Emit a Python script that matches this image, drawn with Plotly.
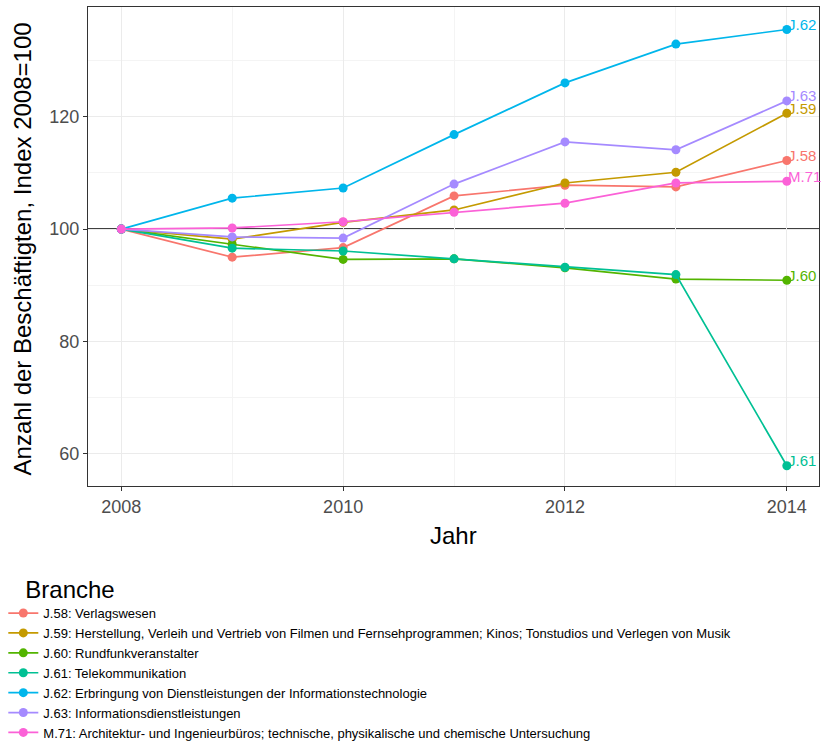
import plotly.graph_objects as go

# Beschäftigte je Branche, Index 2008 = 100
jahre = [2008, 2009, 2010, 2011, 2012, 2013, 2014]

codes = ["J.58", "J.59", "J.60", "J.61", "J.62", "J.63", "M.71"]
namen = [
    "Verlagswesen",
    "Herstellung, Verleih und Vertrieb von Filmen und Fernsehprogrammen; Kinos; Tonstudios und Verlegen von Musik",
    "Rundfunkveranstalter",
    "Telekommunikation",
    "Erbringung von Dienstleistungen der Informationstechnologie",
    "Informationsdienstleistungen",
    "Architektur- und Ingenieurbüros; technische, physikalische und chemische Untersuchung",
]

j58 = [100, 95.0, 96.7, 105.9, 107.8, 107.5, 112.2]
j59 = [100, 98.2, 101.2, 103.4, 108.2, 110.1, 120.6]
j60 = [100, 97.3, 94.6, 94.7, 93.1, 91.1, 90.9]
j61 = [100, 96.6, 96.1, 94.7, 93.2, 91.9, 57.9]
j62 = [100, 105.5, 107.3, 116.8, 126.0, 132.9, 135.5]
j63 = [100, 98.6, 98.4, 108.0, 115.5, 114.1, 122.8]
m71 = [100, 100.2, 101.3, 103.0, 104.6, 108.2, 108.5]

werte = [j58, j59, j60, j61, j62, j63, m71]

farben = ["#F8766D", "#C49A00", "#53B400", "#00C094", "#00B6EB", "#A58AFF", "#FB61D7"]

BASIS = 100
y_ticks = [60, 80, 100, 120]
x_ticks = [2008, 2010, 2012, 2014]

FONT = "Liberation Sans, Arial, sans-serif"

fig = go.Figure()

for code, name, ys, col in zip(codes, namen, werte, farben):
    fig.add_trace(go.Scatter(
        x=jahre, y=ys, mode="lines+markers",
        name=f"{code}: {name}",
        line=dict(color=col, width=1.7),
        marker=dict(color=col, size=9),
        hoverinfo="x+y+name",
    ))

# Kürzel am Ende jeder Linie
for code, ys, col in zip(codes, werte, farben):
    fig.add_annotation(
        x=jahre[-1], y=ys[-1], xref="x", yref="y",
        text=code, showarrow=False,
        xanchor="left", yanchor="middle", xshift=-1, yshift=5,
        font=dict(family=FONT, size=15, color=col),
    )

fig.add_hline(y=BASIS, line=dict(color="black", width=1.5), layer="below")

axis_common = dict(
    showgrid=True, gridcolor="#EBEBEB", gridwidth=1.1,
    showline=True, linecolor="#333333", linewidth=1.1, mirror=True,
    ticks="outside", ticklen=4, tickwidth=1.1, tickcolor="#333333",
    tickfont=dict(family=FONT, size=18, color="#4D4D4D"),
    zeroline=False,
)

fig.update_xaxes(
    range=[2007.7, 2014.29], tickvals=x_ticks,
    minor=dict(showgrid=True, gridcolor="#F4F4F4", gridwidth=0.6, dtick=1, tick0=2008, ticks=""),
    **axis_common,
)
fig.update_yaxes(
    range=[54.3, 139.5], tickvals=y_ticks,
    minor=dict(showgrid=True, gridcolor="#F4F4F4", gridwidth=0.6, dtick=10, tick0=50, ticks=""),
    **axis_common,
)

# Achsentitel
title_font = dict(family=FONT, size=24, color="black")
fig.add_annotation(text="Jahr", xref="paper", yref="paper", x=0.5, y=-0.1023,
                   xanchor="center", yanchor="middle", showarrow=False, font=title_font)
fig.add_annotation(text="Anzahl der Beschäftigten, Index 2008=100", xref="paper", yref="paper",
                   x=-0.0903, y=0.496, xanchor="center", yanchor="middle", textangle=-90,
                   showarrow=False, font=title_font)

fig.update_layout(
    width=826, height=742,
    margin=dict(l=88, r=7, t=7, b=256, autoexpand=False),
    paper_bgcolor="white", plot_bgcolor="white",
    font=dict(family=FONT, color="black"),
    legend=dict(
        xref="container", yref="container",
        x=0.004, y=0.236, xanchor="left", yanchor="top",
        title=dict(text="\u00a0\u00a0\u00a0Branche",
                   font=dict(family=FONT, size=24, color="black")),
        font=dict(family=FONT, size=13, color="black"),
        bgcolor="rgba(0,0,0,0)", itemwidth=30,
        tracegroupgap=0,
    ),
)

fig.write_html("out.html")
